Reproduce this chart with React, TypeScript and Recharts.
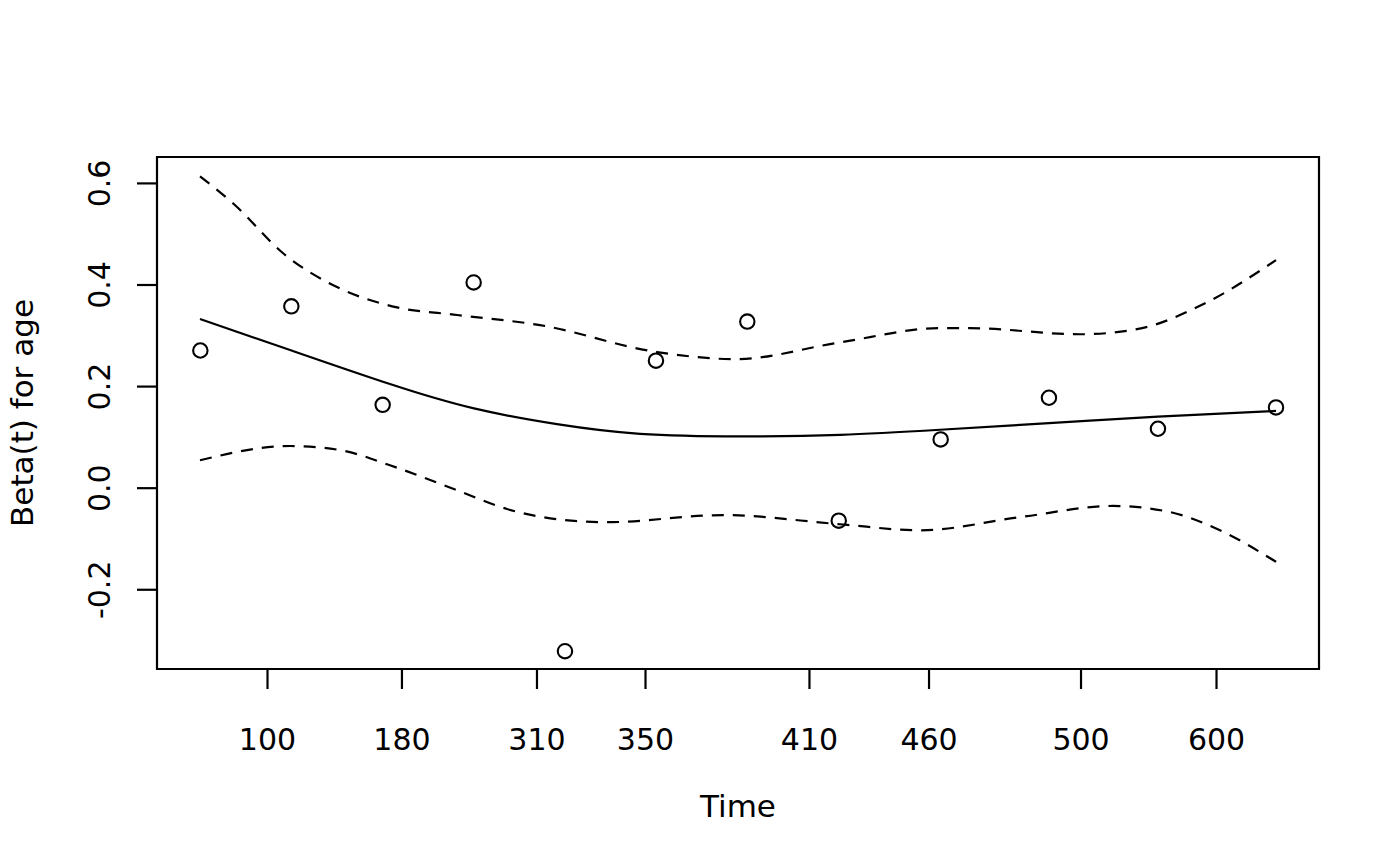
import React from "react";
import {
  ComposedChart,
  Line,
  Scatter,
  XAxis,
  YAxis,
  ReferenceArea,
  Label,
} from "recharts";

// x is the transformed time scale (0..1 across the plot box)
const timeTicks = [0.0951, 0.2108, 0.327, 0.4204, 0.5615, 0.6644, 0.7952, 0.9118];
const timeLabels = ["100", "180", "310", "350", "410", "460", "500", "600"];

const betaTicks = [-0.2, 0, 0.2, 0.4, 0.6];
const betaLabels = ["-0.2", "0.0", "0.2", "0.4", "0.6"];

// scaled Schoenfeld residuals
const pointX = [0.0373, 0.1156, 0.1942, 0.2725, 0.3511, 0.4294, 0.508, 0.5867, 0.6744, 0.7676, 0.8614, 0.963];
const pointY = [0.271, 0.358, 0.164, 0.405, -0.321, 0.251, 0.328, -0.064, 0.096, 0.178, 0.117, 0.159];

// smooth fit
const fitX = [0.037, 0.1145, 0.2005, 0.2728, 0.3442, 0.4157, 0.5017, 0.5878, 0.6738, 0.7676, 0.8614, 0.963];
const fitY = [0.333, 0.272, 0.205, 0.157, 0.126, 0.107, 0.102, 0.105, 0.115, 0.128, 0.141, 0.152];

// confidence band
const upperX = [0.037, 0.0663, 0.1093, 0.1549, 0.2065, 0.2582, 0.3296, 0.4303, 0.4974, 0.5878, 0.6738, 0.6997, 0.7943, 0.8434, 0.9002, 0.963];
const upperY = [0.614, 0.559, 0.461, 0.396, 0.356, 0.341, 0.321, 0.268, 0.254, 0.287, 0.315, 0.315, 0.303, 0.313, 0.362, 0.449];
const lowerX = [0.037, 0.1145, 0.1575, 0.2005, 0.2582, 0.3012, 0.3442, 0.3873, 0.4871, 0.5878, 0.6566, 0.7427, 0.8227, 0.8718, 0.9148, 0.963];
const lowerY = [0.055, 0.083, 0.075, 0.045, -0.004, -0.041, -0.061, -0.067, -0.053, -0.071, -0.083, -0.057, -0.035, -0.047, -0.083, -0.145];

const xDomain = [0, 1];
const yDomain = [-0.356, 0.652];

const toRows = (xs: number[], ys: number[]) => xs.map((x, i) => ({ x, y: ys[i] }));

const FONT = "'DejaVu Sans', sans-serif";
const LW = 2.2;

const OpenCircle = (props: any) => {
  const { cx, cy } = props;
  if (cx == null || cy == null) return null;
  return <circle cx={cx} cy={cy} r={7.2} fill="none" stroke="#000" strokeWidth={2.1} />;
};

const YTick = (props: any) => {
  const { x, y, index } = props;
  return (
    <text
      x={x}
      y={y}
      transform={`rotate(-90 ${x} ${y})`}
      textAnchor="middle"
      fontSize={30}
      fontFamily={FONT}
      fill="#000"
    >
      {betaLabels[index]}
    </text>
  );
};

export default function App() {
  const points = toRows(pointX, pointY);
  const fit = toRows(fitX, fitY);
  const upper = toRows(upperX, upperY);
  const lower = toRows(lowerX, lowerY);

  return (
    <div style={{ position: "absolute", left: 0, top: 0, background: "#fff" }}>
      <ComposedChart
        width={1400}
        height={866}
        margin={{ top: 157, right: 81, left: 0, bottom: 0 }}
      >
        <XAxis
          type="number"
          dataKey="x"
          domain={xDomain}
          allowDataOverflow
          ticks={timeTicks}
          tickFormatter={(_v: number, i: number) => timeLabels[i]}
          height={197}
          axisLine={false}
          tickLine={{ stroke: "#000", strokeWidth: LW }}
          tickSize={20}
          tickMargin={40}
          tick={{ fill: "#000", fontSize: 30, fontFamily: FONT }}
          interval={0}
        >
          <Label
            content={(p: any) => {
              const vb = p.viewBox;
              return (
                <text
                  x={vb.x + vb.width / 2}
                  y={vb.y + 148}
                  textAnchor="middle"
                  fontSize={31}
                  fontFamily={FONT}
                  fill="#000"
                >
                  Time
                </text>
              );
            }}
          />
        </XAxis>
        <YAxis
          type="number"
          dataKey="y"
          domain={yDomain}
          allowDataOverflow
          ticks={betaTicks}
          width={157}
          axisLine={false}
          tickLine={{ stroke: "#000", strokeWidth: LW }}
          tickSize={20}
          tickMargin={27}
          tick={<YTick />}
          interval={0}
        >
          <Label
            content={(p: any) => {
              const vb = p.viewBox;
              const cx = vb.x + 33;
              const cy = vb.y + vb.height / 2;
              return (
                <text
                  x={cx}
                  y={cy}
                  transform={`rotate(-90 ${cx} ${cy})`}
                  textAnchor="middle"
                  fontSize={31}
                  fontFamily={FONT}
                  fill="#000"
                >
                  Beta(t) for age
                </text>
              );
            }}
          />
        </YAxis>

        <ReferenceArea
          x1={xDomain[0]}
          x2={xDomain[1]}
          y1={yDomain[0]}
          y2={yDomain[1]}
          fill="none"
          stroke="#000"
          strokeWidth={LW}
          ifOverflow="visible"
        />

        <Line
          data={upper}
          dataKey="y"
          type="monotone"
          stroke="#000"
          strokeWidth={LW}
          strokeDasharray="12 9"
          dot={false}
          activeDot={false}
          isAnimationActive={false}
        />
        <Line
          data={lower}
          dataKey="y"
          type="monotone"
          stroke="#000"
          strokeWidth={LW}
          strokeDasharray="12 9"
          dot={false}
          activeDot={false}
          isAnimationActive={false}
        />
        <Line
          data={fit}
          dataKey="y"
          type="natural"
          stroke="#000"
          strokeWidth={LW}
          dot={false}
          activeDot={false}
          isAnimationActive={false}
        />
        <Scatter data={points} dataKey="y" shape={<OpenCircle />} isAnimationActive={false} />
      </ComposedChart>
    </div>
  );
}
